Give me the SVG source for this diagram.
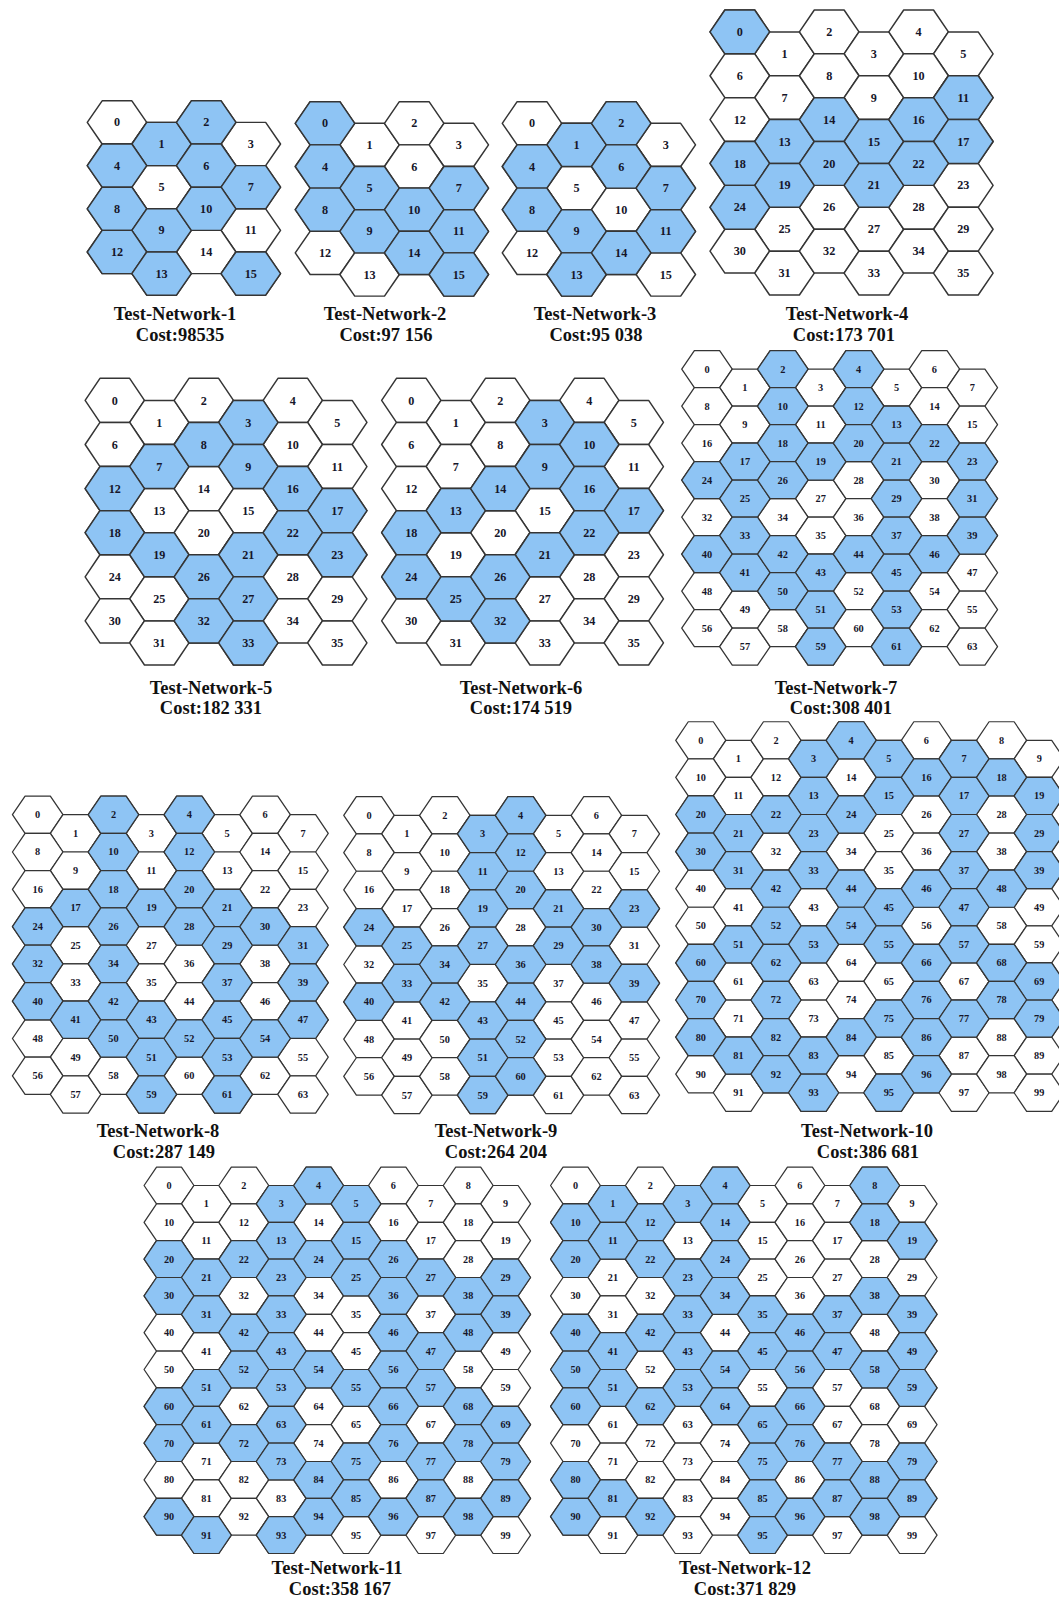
<svg xmlns="http://www.w3.org/2000/svg" width="1059" height="1601" viewBox="0 0 1059 1601">
<style>
.hx{stroke:#353535;stroke-width:1;stroke-linejoin:round}
.num text{font-family:"Liberation Serif",serif;font-weight:bold;font-size:8.2px;text-anchor:middle;fill:#16162a}
.lb{font-family:"Liberation Serif",serif;font-weight:bold;font-size:18.5px;text-anchor:middle;fill:#111}
</style>
<defs>
<path id="w" class="hx" fill="#ffffff" d="M-20 0L-10-15H10L20 0L10 15H-10Z"/>
<path id="b" class="hx" fill="#8ec4f4" d="M-20 0L-10-15H10L20 0L10 15H-10Z"/>
<g id="r4"><use href="#w" x="0" y="0"/><use href="#w" x="30" y="15"/><use href="#w" x="60" y="0"/><use href="#w" x="90" y="15"/></g>
<g id="r6"><use href="#r4"/><use href="#w" x="120" y="0"/><use href="#w" x="150" y="15"/></g>
<g id="r8"><use href="#r6"/><use href="#w" x="180" y="0"/><use href="#w" x="210" y="15"/></g>
<g id="r10"><use href="#r8"/><use href="#w" x="240" y="0"/><use href="#w" x="270" y="15"/></g>
<g id="g4"><use href="#r4"/><use href="#r4" y="30"/><use href="#r4" y="60"/><use href="#r4" y="90"/></g>
<g id="g6"><use href="#r6"/><use href="#r6" y="30"/><use href="#r6" y="60"/><use href="#r6" y="90"/><use href="#r6" y="120"/><use href="#r6" y="150"/></g>
<g id="g8"><use href="#r8"/><use href="#r8" y="30"/><use href="#r8" y="60"/><use href="#r8" y="90"/><use href="#r8" y="120"/><use href="#r8" y="150"/><use href="#r8" y="180"/><use href="#r8" y="210"/></g>
<g id="g10"><use href="#r10"/><use href="#r10" y="30"/><use href="#r10" y="60"/><use href="#r10" y="90"/><use href="#r10" y="120"/><use href="#r10" y="150"/><use href="#r10" y="180"/><use href="#r10" y="210"/><use href="#r10" y="240"/><use href="#r10" y="270"/></g>
<g id="t4" class="num" transform="translate(0,2.8)">
<text x="0" y="0">0</text><text x="30" y="15">1</text><text x="60" y="0">2</text><text x="90" y="15">3</text>
<text x="0" y="30">4</text><text x="30" y="45">5</text><text x="60" y="30">6</text><text x="90" y="45">7</text>
<text x="0" y="60">8</text><text x="30" y="75">9</text><text x="60" y="60">10</text><text x="90" y="75">11</text>
<text x="0" y="90">12</text><text x="30" y="105">13</text><text x="60" y="90">14</text><text x="90" y="105">15</text>
</g>
<g id="t6" class="num" transform="translate(0,2.8)">
<text x="0" y="0">0</text><text x="30" y="15">1</text><text x="60" y="0">2</text><text x="90" y="15">3</text><text x="120" y="0">4</text><text x="150" y="15">5</text>
<text x="0" y="30">6</text><text x="30" y="45">7</text><text x="60" y="30">8</text><text x="90" y="45">9</text><text x="120" y="30">10</text><text x="150" y="45">11</text>
<text x="0" y="60">12</text><text x="30" y="75">13</text><text x="60" y="60">14</text><text x="90" y="75">15</text><text x="120" y="60">16</text><text x="150" y="75">17</text>
<text x="0" y="90">18</text><text x="30" y="105">19</text><text x="60" y="90">20</text><text x="90" y="105">21</text><text x="120" y="90">22</text><text x="150" y="105">23</text>
<text x="0" y="120">24</text><text x="30" y="135">25</text><text x="60" y="120">26</text><text x="90" y="135">27</text><text x="120" y="120">28</text><text x="150" y="135">29</text>
<text x="0" y="150">30</text><text x="30" y="165">31</text><text x="60" y="150">32</text><text x="90" y="165">33</text><text x="120" y="150">34</text><text x="150" y="165">35</text>
</g>
<g id="t8" class="num" transform="translate(0,2.8)">
<text x="0" y="0">0</text><text x="30" y="15">1</text><text x="60" y="0">2</text><text x="90" y="15">3</text><text x="120" y="0">4</text><text x="150" y="15">5</text><text x="180" y="0">6</text><text x="210" y="15">7</text>
<text x="0" y="30">8</text><text x="30" y="45">9</text><text x="60" y="30">10</text><text x="90" y="45">11</text><text x="120" y="30">12</text><text x="150" y="45">13</text><text x="180" y="30">14</text><text x="210" y="45">15</text>
<text x="0" y="60">16</text><text x="30" y="75">17</text><text x="60" y="60">18</text><text x="90" y="75">19</text><text x="120" y="60">20</text><text x="150" y="75">21</text><text x="180" y="60">22</text><text x="210" y="75">23</text>
<text x="0" y="90">24</text><text x="30" y="105">25</text><text x="60" y="90">26</text><text x="90" y="105">27</text><text x="120" y="90">28</text><text x="150" y="105">29</text><text x="180" y="90">30</text><text x="210" y="105">31</text>
<text x="0" y="120">32</text><text x="30" y="135">33</text><text x="60" y="120">34</text><text x="90" y="135">35</text><text x="120" y="120">36</text><text x="150" y="135">37</text><text x="180" y="120">38</text><text x="210" y="135">39</text>
<text x="0" y="150">40</text><text x="30" y="165">41</text><text x="60" y="150">42</text><text x="90" y="165">43</text><text x="120" y="150">44</text><text x="150" y="165">45</text><text x="180" y="150">46</text><text x="210" y="165">47</text>
<text x="0" y="180">48</text><text x="30" y="195">49</text><text x="60" y="180">50</text><text x="90" y="195">51</text><text x="120" y="180">52</text><text x="150" y="195">53</text><text x="180" y="180">54</text><text x="210" y="195">55</text>
<text x="0" y="210">56</text><text x="30" y="225">57</text><text x="60" y="210">58</text><text x="90" y="225">59</text><text x="120" y="210">60</text><text x="150" y="225">61</text><text x="180" y="210">62</text><text x="210" y="225">63</text>
</g>
<g id="t10" class="num" transform="translate(0,2.8)">
<text x="0" y="0">0</text><text x="30" y="15">1</text><text x="60" y="0">2</text><text x="90" y="15">3</text><text x="120" y="0">4</text><text x="150" y="15">5</text><text x="180" y="0">6</text><text x="210" y="15">7</text><text x="240" y="0">8</text><text x="270" y="15">9</text>
<text x="0" y="30">10</text><text x="30" y="45">11</text><text x="60" y="30">12</text><text x="90" y="45">13</text><text x="120" y="30">14</text><text x="150" y="45">15</text><text x="180" y="30">16</text><text x="210" y="45">17</text><text x="240" y="30">18</text><text x="270" y="45">19</text>
<text x="0" y="60">20</text><text x="30" y="75">21</text><text x="60" y="60">22</text><text x="90" y="75">23</text><text x="120" y="60">24</text><text x="150" y="75">25</text><text x="180" y="60">26</text><text x="210" y="75">27</text><text x="240" y="60">28</text><text x="270" y="75">29</text>
<text x="0" y="90">30</text><text x="30" y="105">31</text><text x="60" y="90">32</text><text x="90" y="105">33</text><text x="120" y="90">34</text><text x="150" y="105">35</text><text x="180" y="90">36</text><text x="210" y="105">37</text><text x="240" y="90">38</text><text x="270" y="105">39</text>
<text x="0" y="120">40</text><text x="30" y="135">41</text><text x="60" y="120">42</text><text x="90" y="135">43</text><text x="120" y="120">44</text><text x="150" y="135">45</text><text x="180" y="120">46</text><text x="210" y="135">47</text><text x="240" y="120">48</text><text x="270" y="135">49</text>
<text x="0" y="150">50</text><text x="30" y="165">51</text><text x="60" y="150">52</text><text x="90" y="165">53</text><text x="120" y="150">54</text><text x="150" y="165">55</text><text x="180" y="150">56</text><text x="210" y="165">57</text><text x="240" y="150">58</text><text x="270" y="165">59</text>
<text x="0" y="180">60</text><text x="30" y="195">61</text><text x="60" y="180">62</text><text x="90" y="195">63</text><text x="120" y="180">64</text><text x="150" y="195">65</text><text x="180" y="180">66</text><text x="210" y="195">67</text><text x="240" y="180">68</text><text x="270" y="195">69</text>
<text x="0" y="210">70</text><text x="30" y="225">71</text><text x="60" y="210">72</text><text x="90" y="225">73</text><text x="120" y="210">74</text><text x="150" y="225">75</text><text x="180" y="210">76</text><text x="210" y="225">77</text><text x="240" y="210">78</text><text x="270" y="225">79</text>
<text x="0" y="240">80</text><text x="30" y="255">81</text><text x="60" y="240">82</text><text x="90" y="255">83</text><text x="120" y="240">84</text><text x="150" y="255">85</text><text x="180" y="240">86</text><text x="210" y="255">87</text><text x="240" y="240">88</text><text x="270" y="255">89</text>
<text x="0" y="270">90</text><text x="30" y="285">91</text><text x="60" y="270">92</text><text x="90" y="285">93</text><text x="120" y="270">94</text><text x="150" y="285">95</text><text x="180" y="270">96</text><text x="210" y="285">97</text><text x="240" y="270">98</text><text x="270" y="285">99</text>
</g>
</defs>
<rect width="1059" height="1601" fill="#ffffff"/>

<g id="net1" transform="translate(117,122.4) scale(1.4867,1.44)">
<use href="#g4"/>
<use href="#b" x="30" y="15"/><use href="#b" x="60" y="0"/><use href="#b" x="0" y="30"/><use href="#b" x="60" y="30"/><use href="#b" x="90" y="45"/><use href="#b" x="0" y="60"/><use href="#b" x="30" y="75"/><use href="#b" x="60" y="60"/><use href="#b" x="0" y="90"/><use href="#b" x="30" y="105"/><use href="#b" x="90" y="105"/>
<use href="#t4"/>
</g>
<g id="net2" transform="translate(325,123.3) scale(1.4867,1.44)">
<use href="#g4"/>
<use href="#b" x="0" y="0"/><use href="#b" x="0" y="30"/><use href="#b" x="30" y="45"/><use href="#b" x="90" y="45"/><use href="#b" x="0" y="60"/><use href="#b" x="30" y="75"/><use href="#b" x="60" y="60"/><use href="#b" x="90" y="75"/><use href="#b" x="60" y="90"/><use href="#b" x="90" y="105"/>
<use href="#t4"/>
</g>
<g id="net3" transform="translate(532,123.3) scale(1.4867,1.44)">
<use href="#g4"/>
<use href="#b" x="30" y="15"/><use href="#b" x="60" y="0"/><use href="#b" x="0" y="30"/><use href="#b" x="60" y="30"/><use href="#b" x="90" y="45"/><use href="#b" x="0" y="60"/><use href="#b" x="30" y="75"/><use href="#b" x="90" y="75"/><use href="#b" x="30" y="105"/><use href="#b" x="60" y="90"/>
<use href="#t4"/>
</g>
<g id="net4" transform="translate(739.8,31.9) scale(1.49,1.4617)">
<use href="#g6"/>
<use href="#b" x="0" y="0"/><use href="#b" x="150" y="45"/><use href="#b" x="30" y="75"/><use href="#b" x="60" y="60"/><use href="#b" x="90" y="75"/><use href="#b" x="120" y="60"/><use href="#b" x="150" y="75"/><use href="#b" x="0" y="90"/><use href="#b" x="30" y="105"/><use href="#b" x="60" y="90"/><use href="#b" x="90" y="105"/><use href="#b" x="120" y="90"/><use href="#b" x="0" y="120"/>
<use href="#t6"/>
</g>
<g id="net5" transform="translate(114.8,400.4) scale(1.4833,1.47)">
<use href="#g6"/>
<use href="#b" x="90" y="15"/><use href="#b" x="30" y="45"/><use href="#b" x="60" y="30"/><use href="#b" x="90" y="45"/><use href="#b" x="0" y="60"/><use href="#b" x="120" y="60"/><use href="#b" x="150" y="75"/><use href="#b" x="0" y="90"/><use href="#b" x="30" y="105"/><use href="#b" x="90" y="105"/><use href="#b" x="120" y="90"/><use href="#b" x="150" y="105"/><use href="#b" x="60" y="120"/><use href="#b" x="90" y="135"/><use href="#b" x="60" y="150"/><use href="#b" x="90" y="165"/>
<use href="#t6"/>
</g>
<g id="net6" transform="translate(411.3,400.4) scale(1.4833,1.47)">
<use href="#g6"/>
<use href="#b" x="90" y="15"/><use href="#b" x="90" y="45"/><use href="#b" x="120" y="30"/><use href="#b" x="30" y="75"/><use href="#b" x="60" y="60"/><use href="#b" x="120" y="60"/><use href="#b" x="150" y="75"/><use href="#b" x="0" y="90"/><use href="#b" x="90" y="105"/><use href="#b" x="120" y="90"/><use href="#b" x="0" y="120"/><use href="#b" x="30" y="135"/><use href="#b" x="60" y="120"/><use href="#b" x="60" y="150"/>
<use href="#t6"/>
</g>
<g id="net7" transform="translate(707,369.2) scale(1.2633,1.2333)">
<use href="#g8"/>
<use href="#b" x="60" y="0"/><use href="#b" x="120" y="0"/><use href="#b" x="60" y="30"/><use href="#b" x="120" y="30"/><use href="#b" x="150" y="45"/><use href="#b" x="30" y="75"/><use href="#b" x="60" y="60"/><use href="#b" x="90" y="75"/><use href="#b" x="120" y="60"/><use href="#b" x="150" y="75"/><use href="#b" x="180" y="60"/><use href="#b" x="210" y="75"/><use href="#b" x="0" y="90"/><use href="#b" x="30" y="105"/><use href="#b" x="60" y="90"/><use href="#b" x="150" y="105"/><use href="#b" x="210" y="105"/><use href="#b" x="30" y="135"/><use href="#b" x="150" y="135"/><use href="#b" x="210" y="135"/><use href="#b" x="0" y="150"/><use href="#b" x="30" y="165"/><use href="#b" x="60" y="150"/><use href="#b" x="90" y="165"/><use href="#b" x="120" y="150"/><use href="#b" x="150" y="165"/><use href="#b" x="180" y="150"/><use href="#b" x="60" y="180"/><use href="#b" x="90" y="195"/><use href="#b" x="150" y="195"/><use href="#b" x="90" y="225"/><use href="#b" x="150" y="225"/>
<use href="#t8"/>
</g>
<g id="net8" transform="translate(37.7,814.7) scale(1.2633,1.2433)">
<use href="#g8"/>
<use href="#b" x="60" y="0"/><use href="#b" x="120" y="0"/><use href="#b" x="60" y="30"/><use href="#b" x="120" y="30"/><use href="#b" x="30" y="75"/><use href="#b" x="60" y="60"/><use href="#b" x="90" y="75"/><use href="#b" x="120" y="60"/><use href="#b" x="150" y="75"/><use href="#b" x="0" y="90"/><use href="#b" x="60" y="90"/><use href="#b" x="120" y="90"/><use href="#b" x="150" y="105"/><use href="#b" x="180" y="90"/><use href="#b" x="210" y="105"/><use href="#b" x="0" y="120"/><use href="#b" x="60" y="120"/><use href="#b" x="150" y="135"/><use href="#b" x="210" y="135"/><use href="#b" x="0" y="150"/><use href="#b" x="30" y="165"/><use href="#b" x="60" y="150"/><use href="#b" x="90" y="165"/><use href="#b" x="150" y="165"/><use href="#b" x="210" y="165"/><use href="#b" x="60" y="180"/><use href="#b" x="90" y="195"/><use href="#b" x="120" y="180"/><use href="#b" x="150" y="195"/><use href="#b" x="180" y="180"/><use href="#b" x="90" y="225"/><use href="#b" x="150" y="225"/>
<use href="#t8"/>
</g>
<g id="net9" transform="translate(369,815.3) scale(1.2633,1.2433)">
<use href="#g8"/>
<use href="#b" x="90" y="15"/><use href="#b" x="120" y="0"/><use href="#b" x="90" y="45"/><use href="#b" x="120" y="30"/><use href="#b" x="90" y="75"/><use href="#b" x="120" y="60"/><use href="#b" x="150" y="75"/><use href="#b" x="210" y="75"/><use href="#b" x="0" y="90"/><use href="#b" x="30" y="105"/><use href="#b" x="90" y="105"/><use href="#b" x="150" y="105"/><use href="#b" x="180" y="90"/><use href="#b" x="30" y="135"/><use href="#b" x="60" y="120"/><use href="#b" x="120" y="120"/><use href="#b" x="180" y="120"/><use href="#b" x="210" y="135"/><use href="#b" x="0" y="150"/><use href="#b" x="60" y="150"/><use href="#b" x="90" y="165"/><use href="#b" x="120" y="150"/><use href="#b" x="90" y="195"/><use href="#b" x="120" y="180"/><use href="#b" x="90" y="225"/><use href="#b" x="120" y="210"/>
<use href="#t8"/>
</g>
<g id="net10" transform="translate(700.8,740.3) scale(1.2533,1.2367)">
<use href="#g10"/>
<use href="#b" x="90" y="15"/><use href="#b" x="120" y="0"/><use href="#b" x="150" y="15"/><use href="#b" x="210" y="15"/>
<use href="#b" x="90" y="45"/><use href="#b" x="150" y="45"/><use href="#b" x="180" y="30"/><use href="#b" x="210" y="45"/><use href="#b" x="240" y="30"/><use href="#b" x="270" y="45"/>
<use href="#b" x="0" y="60"/><use href="#b" x="30" y="75"/><use href="#b" x="60" y="60"/><use href="#b" x="90" y="75"/><use href="#b" x="120" y="60"/><use href="#b" x="210" y="75"/><use href="#b" x="270" y="75"/>
<use href="#b" x="0" y="90"/><use href="#b" x="30" y="105"/><use href="#b" x="90" y="105"/><use href="#b" x="210" y="105"/><use href="#b" x="270" y="105"/>
<use href="#b" x="60" y="120"/><use href="#b" x="120" y="120"/><use href="#b" x="150" y="135"/><use href="#b" x="180" y="120"/><use href="#b" x="210" y="135"/><use href="#b" x="240" y="120"/>
<use href="#b" x="30" y="165"/><use href="#b" x="60" y="150"/><use href="#b" x="90" y="165"/><use href="#b" x="120" y="150"/><use href="#b" x="150" y="165"/><use href="#b" x="210" y="165"/>
<use href="#b" x="0" y="180"/><use href="#b" x="60" y="180"/><use href="#b" x="180" y="180"/><use href="#b" x="240" y="180"/><use href="#b" x="270" y="195"/>
<use href="#b" x="0" y="210"/><use href="#b" x="60" y="210"/><use href="#b" x="150" y="225"/><use href="#b" x="180" y="210"/><use href="#b" x="210" y="225"/><use href="#b" x="240" y="210"/><use href="#b" x="270" y="225"/>
<use href="#b" x="0" y="240"/><use href="#b" x="30" y="255"/><use href="#b" x="60" y="240"/><use href="#b" x="90" y="255"/><use href="#b" x="120" y="240"/><use href="#b" x="180" y="240"/>
<use href="#b" x="60" y="270"/><use href="#b" x="90" y="285"/><use href="#b" x="150" y="285"/><use href="#b" x="180" y="270"/>
<use href="#t10"/>
</g>
<g id="net11" transform="translate(169,1185.5) scale(1.2467,1.2267)">
<use href="#g10"/>
<use href="#b" x="90" y="15"/><use href="#b" x="120" y="0"/><use href="#b" x="150" y="15"/>
<use href="#b" x="90" y="45"/><use href="#b" x="150" y="45"/>
<use href="#b" x="0" y="60"/><use href="#b" x="30" y="75"/><use href="#b" x="60" y="60"/><use href="#b" x="90" y="75"/><use href="#b" x="120" y="60"/><use href="#b" x="150" y="75"/><use href="#b" x="180" y="60"/><use href="#b" x="210" y="75"/><use href="#b" x="270" y="75"/>
<use href="#b" x="0" y="90"/><use href="#b" x="30" y="105"/><use href="#b" x="90" y="105"/><use href="#b" x="180" y="90"/><use href="#b" x="240" y="90"/><use href="#b" x="270" y="105"/>
<use href="#b" x="60" y="120"/><use href="#b" x="90" y="135"/><use href="#b" x="180" y="120"/><use href="#b" x="210" y="135"/><use href="#b" x="240" y="120"/>
<use href="#b" x="30" y="165"/><use href="#b" x="60" y="150"/><use href="#b" x="90" y="165"/><use href="#b" x="120" y="150"/><use href="#b" x="150" y="165"/><use href="#b" x="180" y="150"/><use href="#b" x="210" y="165"/>
<use href="#b" x="0" y="180"/><use href="#b" x="30" y="195"/><use href="#b" x="90" y="195"/><use href="#b" x="180" y="180"/><use href="#b" x="240" y="180"/><use href="#b" x="270" y="195"/>
<use href="#b" x="0" y="210"/><use href="#b" x="60" y="210"/><use href="#b" x="90" y="225"/><use href="#b" x="150" y="225"/><use href="#b" x="180" y="210"/><use href="#b" x="210" y="225"/><use href="#b" x="240" y="210"/><use href="#b" x="270" y="225"/>
<use href="#b" x="120" y="240"/><use href="#b" x="150" y="255"/><use href="#b" x="210" y="255"/><use href="#b" x="270" y="255"/>
<use href="#b" x="0" y="270"/><use href="#b" x="30" y="285"/><use href="#b" x="90" y="285"/><use href="#b" x="120" y="270"/><use href="#b" x="180" y="270"/><use href="#b" x="240" y="270"/>
<use href="#t10"/>
</g>
<g id="net12" transform="translate(575.5,1185.5) scale(1.2467,1.2267)">
<use href="#g10"/>
<use href="#b" x="30" y="15"/><use href="#b" x="90" y="15"/><use href="#b" x="120" y="0"/><use href="#b" x="240" y="0"/>
<use href="#b" x="0" y="30"/><use href="#b" x="30" y="45"/><use href="#b" x="60" y="30"/><use href="#b" x="120" y="30"/><use href="#b" x="240" y="30"/><use href="#b" x="270" y="45"/>
<use href="#b" x="0" y="60"/><use href="#b" x="60" y="60"/><use href="#b" x="90" y="75"/><use href="#b" x="120" y="60"/>
<use href="#b" x="90" y="105"/><use href="#b" x="120" y="90"/><use href="#b" x="150" y="105"/><use href="#b" x="210" y="105"/><use href="#b" x="240" y="90"/><use href="#b" x="270" y="105"/>
<use href="#b" x="0" y="120"/><use href="#b" x="30" y="135"/><use href="#b" x="60" y="120"/><use href="#b" x="90" y="135"/><use href="#b" x="150" y="135"/><use href="#b" x="180" y="120"/><use href="#b" x="210" y="135"/><use href="#b" x="270" y="135"/>
<use href="#b" x="0" y="150"/><use href="#b" x="30" y="165"/><use href="#b" x="90" y="165"/><use href="#b" x="120" y="150"/><use href="#b" x="180" y="150"/><use href="#b" x="240" y="150"/><use href="#b" x="270" y="165"/>
<use href="#b" x="0" y="180"/><use href="#b" x="60" y="180"/><use href="#b" x="120" y="180"/><use href="#b" x="150" y="195"/><use href="#b" x="180" y="180"/>
<use href="#b" x="150" y="225"/><use href="#b" x="180" y="210"/><use href="#b" x="210" y="225"/><use href="#b" x="270" y="225"/>
<use href="#b" x="0" y="240"/><use href="#b" x="30" y="255"/><use href="#b" x="150" y="255"/><use href="#b" x="210" y="255"/><use href="#b" x="240" y="240"/><use href="#b" x="270" y="255"/>
<use href="#b" x="0" y="270"/><use href="#b" x="60" y="270"/><use href="#b" x="150" y="285"/><use href="#b" x="180" y="270"/><use href="#b" x="240" y="270"/>
<use href="#t10"/>
</g>

<g id="labels">
<text class="lb" x="175" y="320">Test-Network-1</text><text class="lb" x="180" y="341">Cost:98535</text>
<text class="lb" x="385" y="320">Test-Network-2</text><text class="lb" x="386" y="341">Cost:97 156</text>
<text class="lb" x="595" y="320">Test-Network-3</text><text class="lb" x="596" y="341">Cost:95 038</text>
<text class="lb" x="847" y="320">Test-Network-4</text><text class="lb" x="844" y="341">Cost:173 701</text>
<text class="lb" x="211" y="693.5">Test-Network-5</text><text class="lb" x="211" y="714">Cost:182 331</text>
<text class="lb" x="521" y="693.5">Test-Network-6</text><text class="lb" x="521" y="714">Cost:174 519</text>
<text class="lb" x="836" y="693.5">Test-Network-7</text><text class="lb" x="841" y="714">Cost:308 401</text>
<text class="lb" x="158" y="1137">Test-Network-8</text><text class="lb" x="164" y="1158">Cost:287 149</text>
<text class="lb" x="496" y="1137">Test-Network-9</text><text class="lb" x="496" y="1158">Cost:264 204</text>
<text class="lb" x="867" y="1137">Test-Network-10</text><text class="lb" x="868" y="1158">Cost:386 681</text>
<text class="lb" x="337" y="1574">Test-Network-11</text><text class="lb" x="340" y="1595">Cost:358 167</text>
<text class="lb" x="745" y="1574">Test-Network-12</text><text class="lb" x="745" y="1595">Cost:371 829</text>
</g>
</svg>
